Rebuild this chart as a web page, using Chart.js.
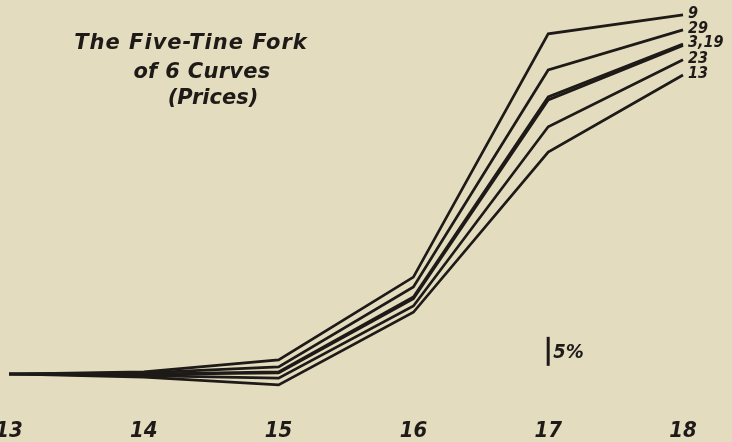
<!DOCTYPE html>
<html>
<head>
<meta charset="utf-8">
<script src="https://cdn.jsdelivr.net/npm/chart.js@4"></script>
<style>
  html, body { margin: 0; padding: 0; background: #e4dcbf; }
  #wrap { position: relative; width: 732px; height: 442px; }
  canvas { display: block; }
</style>
</head>
<body>
<div id="wrap"><canvas id="c" width="732" height="442"></canvas></div>
<script>
// Years (1913 .. 1918) shown as tick labels
const yearLabels = ['13', '14', '15', '16', '17', '18'];

// Index numbers (1913 = 100), ratio scale
const formula9  = [100, 100.4, 102.8, 120.8, 194.2, 201.5];
const formula29 = [100, 100.2, 101.4, 118.5, 181.0, 195.7];
const formula3  = [100, 100.0, 100.4, 116.2, 171.7, 190.4];
const formula19 = [100,  99.9, 100.2, 115.8, 170.7, 189.8];
const formula23 = [100,  99.7,  99.2, 114.2, 162.0, 184.6];
const formula13 = [100,  99.4,  97.9, 112.8, 154.2, 179.2];

const seriesNames = ['9', '29', '3', '19', '23', '13'];
const endLabels   = ['9', '29', '3,19', '', '23', '13'];

const titleLines = ['The Five-Tine Fork', 'of 6 Curves', '(Prices)'];
const scaleBarText = '5%';
const scaleBarBase = 102;     // value at bottom of the 5% bar
const scaleBarRatio = 1.05;

const ink = '#1d1a17';
const allSeries = [formula9, formula29, formula3, formula19, formula23, formula13];

const decor = {
  id: 'decor',
  afterDatasetsDraw(chart) {
    const ctx = chart.ctx;
    const xs = chart.scales.x, ys = chart.scales.y;
    ctx.save();
    ctx.fillStyle = ink;
    ctx.strokeStyle = ink;
    // title
    ctx.font = 'italic bold 21px "DejaVu Sans"';
    ctx.textAlign = 'center';
    ctx.textBaseline = 'alphabetic';
    const tx = [191, 202, 213], ty = [49, 78, 104], sp = ['1px', '0.3px', '0px'];
    titleLines.forEach((t, i) => {
      ctx.letterSpacing = sp[i];
      ctx.fillText(t, tx[i], ty[i]);
    });
    ctx.letterSpacing = '0px';
    // end labels
    ctx.font = 'italic bold 16px "DejaVu Sans Condensed", "DejaVu Sans"';
    ctx.textAlign = 'left';
    ctx.textBaseline = 'middle';
    const last = yearLabels.length - 1;
    endLabels.forEach((t, i) => {
      if (!t) return;
      const x = xs.getPixelForValue(last) + 5;
      const y = ys.getPixelForValue(allSeries[i][last]) - 1;
      ctx.fillText(t, x, y);
    });
    // 5% scale bar at the '17' column
    const bx = xs.getPixelForValue(4);
    const y0 = ys.getPixelForValue(scaleBarBase);
    const y1 = ys.getPixelForValue(scaleBarBase * scaleBarRatio);
    ctx.lineWidth = 3;
    ctx.beginPath();
    ctx.moveTo(bx, y0 + 2);
    ctx.lineTo(bx, y1 - 2);
    ctx.stroke();
    ctx.font = 'italic bold 20px "DejaVu Sans Condensed", "DejaVu Sans"';
    ctx.fillText(scaleBarText, bx + 5, (y0 + y1) / 2 + 1);
    ctx.restore();
  }
};

new Chart(document.getElementById('c'), {
  type: 'line',
  data: {
    labels: yearLabels,
    datasets: allSeries.map((d, i) => ({
      label: seriesNames[i],
      data: d,
      borderColor: ink,
      borderWidth: 2.7,
      pointRadius: 0,
      tension: 0,
      borderJoinStyle: 'miter',
      fill: false
    }))
  },
  options: {
    responsive: false,
    animation: false,
    devicePixelRatio: 1,
    layout: { padding: { left: 9, right: 49, top: 0, bottom: 0 } },
    plugins: { legend: { display: false }, title: { display: false }, tooltip: { enabled: false } },
    scales: {
      x: {
        type: 'category',
        offset: false,
        grid: { display: false, drawTicks: false },
        border: { display: false },
        ticks: {
          color: ink,
          font: { family: '"DejaVu Sans Condensed", "DejaVu Sans"', size: 22, style: 'italic', weight: 'bold' },
          padding: 3,
          maxRotation: 0,
          autoSkip: false
        },
        afterFit(scale) {
          scale.height = 27;
          scale.paddingLeft = 0;
          scale.paddingRight = 0;
        }
      },
      y: {
        type: 'logarithmic',
        min: 92.31,
        max: 207.46,
        display: false
      }
    }
  },
  plugins: [decor]
});
</script>
</body>
</html>
